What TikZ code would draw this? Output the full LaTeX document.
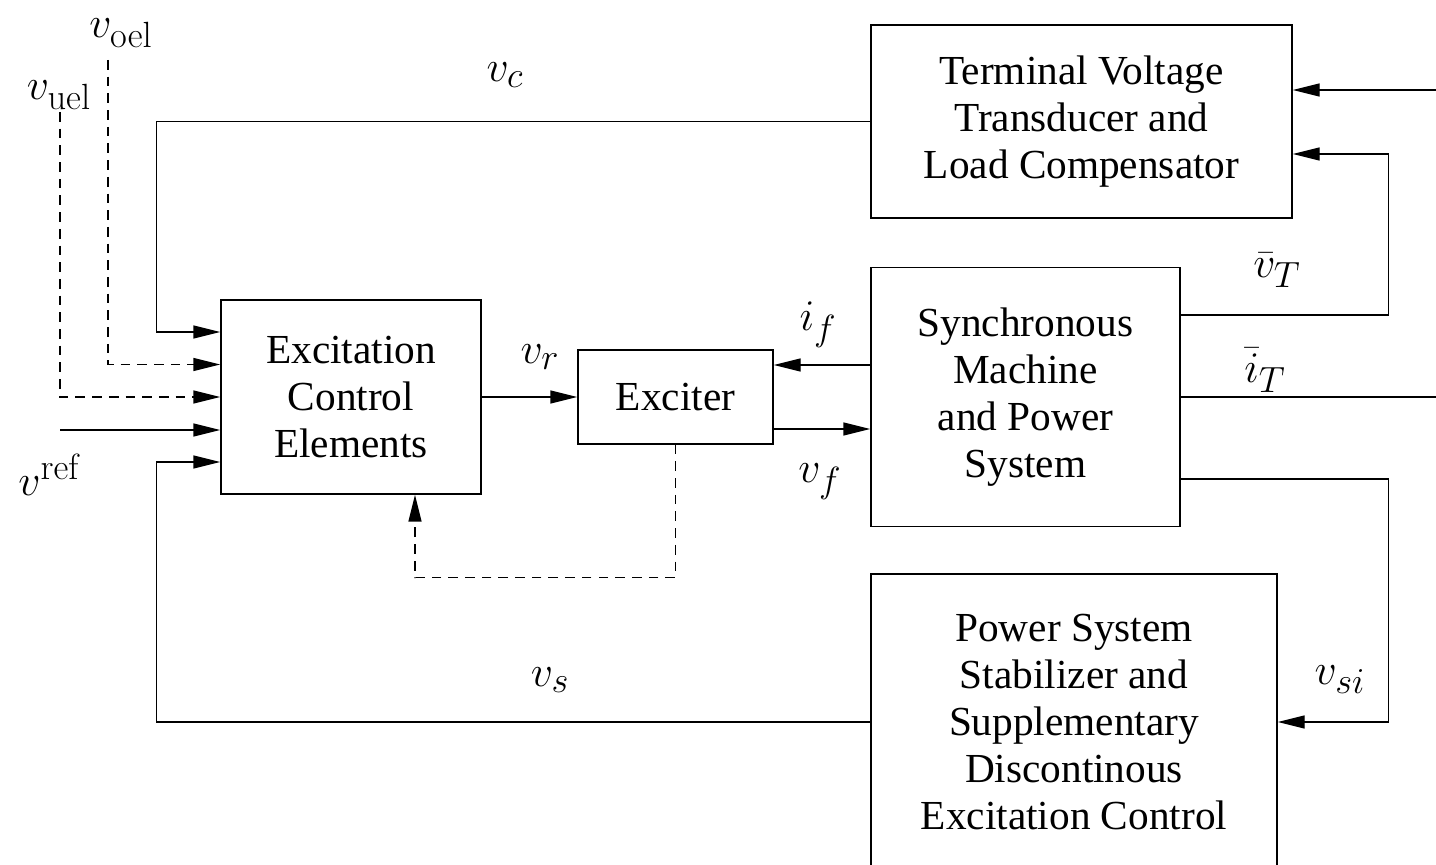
\documentclass[tikz,border=0pt]{standalone}
\usepackage[no-math]{fontspec}
\setmainfont{Liberation Serif}
\usetikzlibrary{arrows.meta}
\tikzset{
  blk/.style={draw,line width=0.8pt,align=center,inner sep=0pt},
  lbl/.style={inner sep=0pt,font=\fontsize{24.88}{30}\selectfont},
  sig/.style={line width=0.8pt,-{Triangle[length=5.4mm,width=2.6mm]}},
  dsh/.style={dash pattern=on 5.5pt off 4pt},
}
\begin{document}
\begin{tikzpicture}[font=\fontsize{23.5}{26.7}\selectfont]
  \useasboundingbox (0,0) rectangle (28.72,-17.3);
  \clip (0,0) rectangle (28.72,-17.3);

  % blocks
  \node[blk,minimum width=8.42cm,minimum height=3.86cm] (tvt) at (21.63,-2.43)
    {Terminal Voltage\\Transducer and\\Load Compensator};
  \node[blk,minimum width=5.2cm,minimum height=3.88cm] (ece) at (7.02,-7.94)
    {Excitation\\Control\\Elements};
  \node[blk,minimum width=3.9cm,minimum height=1.88cm] (exc) at (13.51,-7.94)
    {Exciter};
  \node[blk,minimum width=6.18cm,minimum height=5.18cm] (sm) at (20.51,-7.94)
    {Synchronous\\Machine\\and Power\\System};
  \node[blk,minimum width=8.12cm,minimum height=5.92cm] (pss) at (21.48,-14.44)
    {Power System\\Stabilizer and\\Supplementary\\Discontinous\\Excitation Control};

  % free ends
  \coordinate (oel) at (2.16,-1.2);
  \coordinate (uel) at (1.2,-2.24);
  \coordinate (ref) at (1.2,-8.6);
  \coordinate (tin) at (28.72,-1.8);
  \coordinate (rim) at (28.72,0);

  % inputs of the control elements
  \draw[sig] (tvt.west) -| ([xshift=-1.28cm,yshift=1.3cm]ece.west) -- ([yshift=1.3cm]ece.west);
  \draw[sig,dsh] (oel) |- ([yshift=0.65cm]ece.west);
  \draw[sig,dsh] (uel) |- (ece.west);
  \draw[sig] (ref) -- (ref -| ece.west);
  \draw[sig] (pss.west) -| ([xshift=-1.28cm,yshift=-1.3cm]ece.west) -- ([yshift=-1.3cm]ece.west);

  % exciter
  \draw[sig] (ece.east) -- (exc.west);
  \draw[sig] ([yshift=0.64cm]sm.west) -- ([yshift=0.64cm]exc.east);
  \draw[sig] ([yshift=-0.64cm]exc.east) -- ([yshift=-0.64cm]sm.west);
  \draw[sig,dsh] (exc.south) -- ++(0,-2.66) -| ([xshift=1.28cm]ece.south);

  % machine outputs
  \draw[sig] (tin) -- (tin -| tvt.east);
  \draw[sig] ([yshift=1.64cm]sm.east) -| ([xshift=1.92cm,yshift=-0.65cm]tvt.east) -- ([yshift=-0.65cm]tvt.east);
  \draw[line width=0.8pt] (sm.east) -- (sm.east -| rim);
  \draw[sig] ([yshift=-1.64cm]sm.east) -| ([xshift=2.22cm]pss.east) -- (pss.east);

  % labels
  \node[lbl] (loel) at (2.42,-0.66) {\(v_{\mathrm{oel}}\)};
  \node[lbl] (luel) at (1.18,-1.9) {\(v_{\mathrm{uel}}\)};
  \node[lbl] (lref) at (1.0,-9.5) {\(v^{\mathrm{ref}}\)};
  \node[lbl] (lc) at (10.1,-1.5) {\(v_c\)};
  \node[lbl] (lr) at (10.8,-7.14) {\(v_r\)};
  \node[lbl] (lif) at (16.36,-6.5) {\(i_f\)};
  \node[lbl] (lvf) at (16.4,-9.64) {\(v_f\)};
  \node[lbl] (lvt) at (25.54,-5.4) {\(\bar{v}_T\)};
  \node[lbl] (lit) at (25.3,-7.4) {\(\bar{i}_T\)};
  \node[lbl] (ls) at (11,-13.6) {\(v_s\)};
  \node[lbl] (lsi) at (26.8,-13.6) {\(v_{si}\)};
\end{tikzpicture}
\end{document}
